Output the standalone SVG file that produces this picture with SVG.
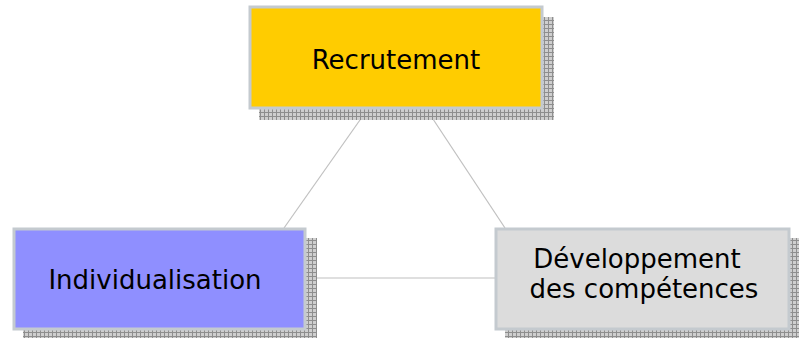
<svg xmlns="http://www.w3.org/2000/svg" width="799" height="338" viewBox="0 0 799 338">
<defs>
<pattern id="grid" width="4" height="4" patternUnits="userSpaceOnUse">
<rect width="4" height="4" fill="#cfcfcf"/>
<path d="M0 0.5H4M0.5 0V4" stroke="#8e8e8e" stroke-width="1"/>
</pattern>
</defs>
<style>
.shadow{fill:url(#grid)}
.box{stroke:#c4cacf;stroke-width:3}
.lbl{font-family:"DejaVu Sans","Liberation Sans",sans-serif;font-size:26px;fill:#000;text-anchor:middle}
.conn{stroke:#c0c0c0;stroke-width:1.2;fill:none}
</style>
<g id="connectors">
<line class="conn" x1="367" y1="110" x2="284" y2="228"/>
<line class="conn" x1="427" y1="110" x2="505" y2="228"/>
<line class="conn" x1="306" y1="278" x2="495" y2="278"/>
</g>
<g id="recrutement">
<rect class="shadow" x="259" y="17" width="295" height="103"/>
<rect class="box" x="250" y="7" width="292" height="101" fill="#ffcc00"/>
<text class="lbl" x="396" y="69">Recrutement</text>
</g>
<g id="individualisation">
<rect class="shadow" x="23" y="238" width="294" height="100"/>
<rect class="box" x="14" y="229" width="291" height="100" fill="#8f8fff"/>
<text class="lbl" x="155" y="289">Individualisation</text>
</g>
<g id="developpement">
<rect class="shadow" x="505" y="238" width="294" height="100"/>
<rect class="box" x="496" y="229" width="293" height="100" fill="#dcdcdc"/>
<text class="lbl" x="637" y="268">Développement</text>
<text class="lbl" x="644" y="298">des compétences</text>
</g>
</svg>
